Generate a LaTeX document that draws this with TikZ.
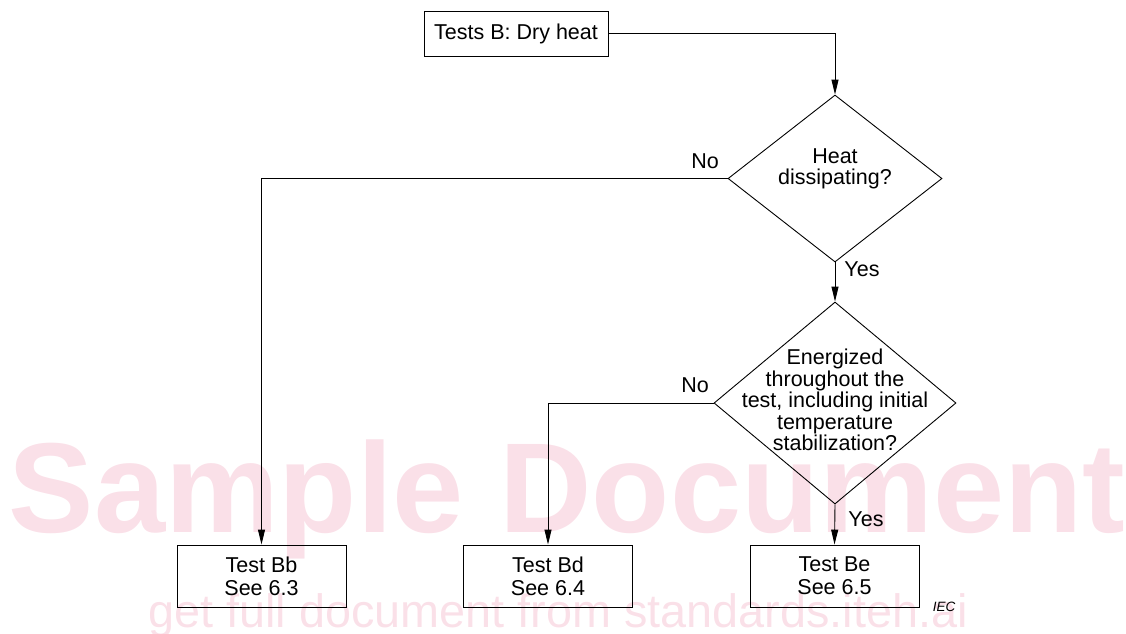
\documentclass[tikz,border=0pt]{standalone}
\usepackage{fontspec}
\setmainfont{Liberation Sans}
\usetikzlibrary{shapes.geometric,arrows.meta}
\definecolor{wm}{RGB}{250,224,232}
\tikzset{
  box/.style={draw, line width=0.9pt, inner sep=0pt, minimum width=169pt, minimum height=62pt, align=center, font=\fontsize{21.5}{23}\selectfont},
  dec/.style={draw, shape=diamond, line width=0.9pt, inner sep=0pt},
  dtext/.style={align=center, font=\fontsize{21.5}{21.5}\selectfont, inner sep=0pt},
  lab/.style={font=\fontsize{21.5}{22}\selectfont, inner sep=0pt},
  conn/.style={line width=0.9pt, -{Triangle[length=15pt,width=7pt]}},
  mark1/.style={text=wm, inner sep=0pt, anchor=base}
}
\begin{document}
\begin{tikzpicture}[x=1pt,y=-1pt]
\useasboundingbox (0,0) rectangle (1126,633);
% watermark
\node[mark1, font=\bfseries\fontsize{128}{130}\selectfont] (wm1) at (567,532) {Sample Document};
\node[mark1, font=\fontsize{46.8}{48}\selectfont] (wm2) at (558,627) {get full document from standards.iteh.ai};
% nodes
\node[box, minimum width=184pt, minimum height=45pt] (top) at (516,33.5) {Tests B: Dry heat};
\node[dec, minimum width=214pt, minimum height=167pt] (d1) at (835,178.5) {};
\node[dtext] (t1) at (835,169) {Heat\\dissipating?};
\node[dec, minimum width=242pt, minimum height=202pt] (d2) at (835,403) {};
\node[dtext] (t2) at (835,400) {Energized\\throughout the\\test, including initial\\temperature\\stabilization?};
\node[box] (bb) at (261.5,576) {Test Bb\\See 6.3};
\node[box] (bd) at (548,576) {Test Bd\\See 6.4};
\node[box] (be) at (834.5,576) {Test Be\\See 6.5};
% connectors
\draw[conn] (top.east) -| (d1.north);
\draw[conn] (d1.west) -| (bb.north);
\draw[conn] (d1.south) -- (d2.north);
\draw[conn] (d2.west) -| (bd.north);
\draw[conn] (d2.south) -- (be.north);
% labels
\node[lab] (no1) at (705,161) {No};
\node[lab] (yes1) at (862,269) {Yes};
\node[lab] (no2) at (695,385) {No};
\node[lab] (yes2) at (866,519) {Yes};
\node[font=\itshape\fontsize{13.5}{14}\selectfont, inner sep=0pt] (iec) at (944,607) {IEC};
\end{tikzpicture}
\end{document}
